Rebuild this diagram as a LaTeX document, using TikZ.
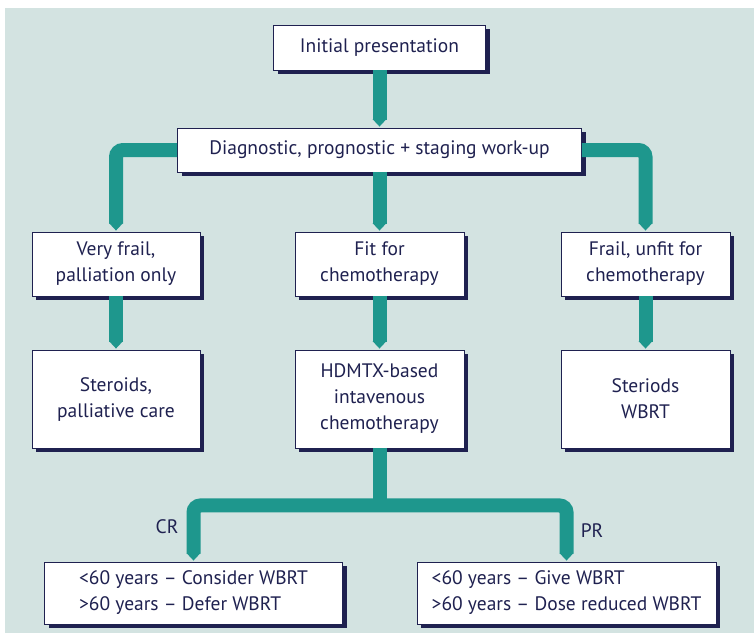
\documentclass[tikz,border=0pt]{standalone}
\usepackage{fontspec}
\setmainfont{PT Sans}
\usetikzlibrary{calc}
\definecolor{panel}{HTML}{D3E3E1}
\definecolor{flow}{HTML}{1E978D}
\definecolor{ink}{HTML}{1F2150}
\begin{document}
\begin{tikzpicture}[x=1pt,y=-1pt,
  box/.style={draw=ink,line width=0.9pt,fill=white,inner sep=0pt,align=center,
    text=ink,font=\fontsize{19.5}{26}\selectfont,
    preaction={fill=ink,transform canvas={xshift=4pt,yshift=-4pt}}},
  conn/.style={draw=flow,line width=14pt,rounded corners=7pt},
  lbl/.style={text=ink,font=\fontsize{19.5}{22}\selectfont,inner sep=0pt}]
\useasboundingbox (0,0) rectangle (754,638);
\fill[panel] (5,8) rectangle (754,633);

% boxes
\node[box,minimum width=212pt,minimum height=45pt] (init) at (379.5,47.5) {Initial presentation};
\node[box,minimum width=404pt,minimum height=44pt] (diag) at (379.5,150) {Diagnostic, prognostic + staging work-up};
\node[box,minimum width=168pt,minimum height=64pt] (vf) at (116,264) {Very frail,\\palliation only};
\node[box,minimum width=169pt,minimum height=64pt] (fit) at (379.5,264) {Fit for\\chemotherapy};
\node[box,minimum width=169pt,minimum height=64pt] (fu) at (645.5,264) {Frail, unfit for\\chemotherapy};
\node[box,minimum width=168pt,minimum height=98pt] (st) at (116,399) {Steroids,\\palliative care};
\node[box,minimum width=169pt,minimum height=98pt] (hd) at (379.5,399) {HDMTX-based\\intavenous\\chemotherapy};
\node[box,minimum width=169pt,minimum height=98pt] (sw) at (645.5,399) {Steriods\\WBRT};
\node[box,minimum width=298pt,minimum height=62pt,align=left] (cr) at (193.5,593) {<60 years – Consider WBRT\\>60 years – Defer WBRT};
\node[box,minimum width=299pt,minimum height=62pt,align=left] (pr) at (566.5,593) {<60 years – Give WBRT\\>60 years – Dose reduced WBRT};

% connectors
\coordinate (split) at ($(hd.south)+(0,57)$);
\draw[conn] (init.south) -- ([yshift=8pt]diag.north);
\draw[conn] (diag.south) -- ([yshift=8pt]fit.north);
\draw[conn] (diag.west) -| ([yshift=8pt]vf.north);
\draw[conn] (diag.east) -| ([yshift=8pt]fu.north);
\draw[conn] (vf.south) -- ([yshift=8pt]st.north);
\draw[conn] (fit.south) -- ([yshift=8pt]hd.north);
\draw[conn] (fu.south) -- ([yshift=8pt]sw.north);
\draw[conn] (hd.south) -- (split);
\draw[conn] ([yshift=8pt]cr.north) |- (split) -| ([yshift=8pt]pr.north);

% arrow heads
\foreach \t in {diag,vf,fit,fu,st,hd,sw,cr,pr}{
  \fill[flow] ([xshift=-7pt,yshift=8.5pt]\t.north) -- ([xshift=7pt,yshift=8.5pt]\t.north) -- ([yshift=1pt]\t.north) -- cycle;
}

% branch labels
\node[lbl] (crl) at (167,527) {CR};
\node[lbl] (prl) at (592,531) {PR};
\end{tikzpicture}
\end{document}
